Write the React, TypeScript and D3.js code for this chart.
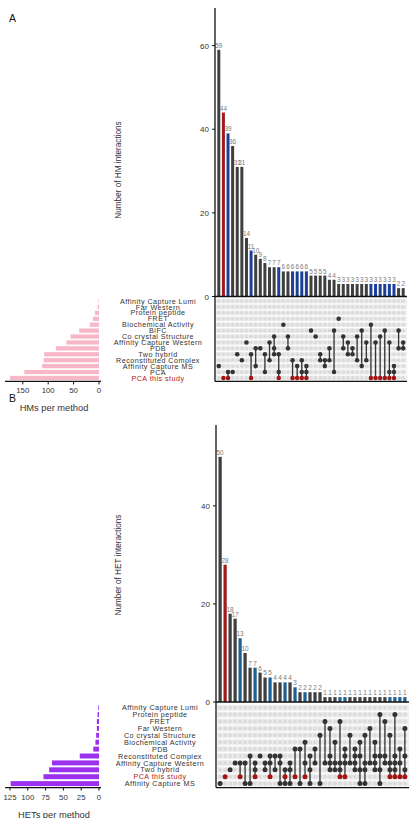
import * as d3 from "d3";

// HM interactions: methods (matrix rows, top to bottom), set sizes, intersections
const hmMethods = [
  "Affinity Capture Lumi",
  "Far Western",
  "Protein peptide",
  "FRET",
  "Biochemical Activity",
  "BiFC",
  "Co crystal Structure",
  "Affinity Capture Western",
  "PDB",
  "Two hybrid",
  "Reconstituted Complex",
  "Affinity Capture MS",
  "PCA",
  "PCA this study",
];
const hmMethodSizes = [1, 3, 8, 12, 18, 39, 56, 64, 85, 108, 109, 112, 147, 175];
const hmCounts = [
  59, 44, 39, 36, 31, 31, 14, 11, 10, 9, 8, 7, 7, 7, 6, 6, 6, 6, 6, 6, 5, 5, 5, 5, 4, 4,
  3, 3, 3, 3, 3, 3, 3, 3, 3, 3, 3, 3, 3, 2, 2,
];
const hmMembers: number[][] = [
  [11], [13], [12, 13], [12], [9], [10], [7], [9, 13], [8, 11], [8],
  [9, 12], [7, 10], [6, 8, 9], [9, 12, 13], [4], [6, 8], [10, 13], [11, 13], [10, 12, 13], [11, 12, 13],
  [5], [6], [9, 10], [10, 11], [8, 10], [5, 12], [3], [6, 8], [7, 9], [8, 9],
  [6, 10], [5, 11], [7, 10], [4, 13], [7, 13], [6, 13], [5, 13], [7, 12, 13], [11, 12, 13], [5, 8],
  [7, 8],
];

// HET interactions
const hetMethods = [
  "Affinity Capture Lumi",
  "Protein peptide",
  "FRET",
  "Far Western",
  "Co crystal Structure",
  "Biochemical Activity",
  "PDB",
  "Reconstituted Complex",
  "Affinity Capture Western",
  "Two hybrid",
  "PCA this study",
  "Affinity Capture MS",
];
const hetMethodSizes = [1, 2, 3, 3, 4, 5, 8, 27, 66, 70, 78, 124];
const hetCounts = [
  50, 28, 18, 17, 13, 10, 7, 7, 6, 5, 5, 4, 4, 4, 4, 3, 2, 2, 2, 2, 2,
  1, 1, 1, 1, 1, 1, 1, 1, 1, 1, 1, 1, 1, 1, 1, 1, 1,
];
const hetMembers: number[][] = [
  [11], [10], [9], [8], [8, 10], [8, 11], [7, 11], [8, 9, 10], [7], [8, 9],
  [7, 8, 10], [7, 9], [7, 8, 11], [9, 10, 11], [8, 9, 11], [6, 10], [6, 11], [5, 8, 10], [7, 9, 11], [6, 8],
  [4, 11], [2, 8], [3, 7, 8, 9], [5, 8, 9], [2, 8, 9, 10], [6, 7, 8, 10], [4, 8], [6, 7, 8, 9], [5, 7, 9, 11], [4, 8, 9, 11],
  [3, 8], [5, 7, 8, 9], [1, 7, 9, 11], [2, 7, 8], [4, 8, 9, 10], [1, 7, 8, 9, 10], [6, 8, 10], [3, 7, 9, 10],
];

const hmYTicks = [0, 20, 40, 60];
const hetYTicks = [0, 20, 40];
const hmSizeTicks = [0, 50, 100, 150];
const hetSizeTicks = [0, 25, 50, 75, 100, 125];

const STUDY = "PCA this study";
const FONT = "'Liberation Sans', Arial, Helvetica, sans-serif";

type PanelProps = {
  letter: string;
  letterY: number;
  methods: string[];
  sizes: number[];
  counts: number[];
  members: number[][];
  yMax: number;
  yTicks: number[];
  baseY: number;
  topY: number;
  colRange: [number, number];
  rowY0: number;
  rowStep: number;
  sizeMax: number;
  sizeTicks: number[];
  sizeColor: string;
  comboBlue: string;
  yLabel: string;
  yLabelY: number;
  sizeLabel: string;
  sizeLabelY: number;
  labelX: number;
  dotR: number;
};

function UpsetPanel(p: PanelProps) {
  const n = p.counts.length;
  const x = d3
    .scaleBand<number>()
    .domain(d3.range(n))
    .range(p.colRange)
    .paddingInner(0.35)
    .paddingOuter(0.5);
  const y = d3.scaleLinear().domain([0, p.yMax]).range([p.baseY, p.topY]);
  const rows = d3.range(p.methods.length);
  const rowY = d3
    .scalePoint<number>()
    .domain(rows)
    .range([p.rowY0, p.rowY0 + p.rowStep * (p.methods.length - 1)]);
  const sx = d3.scaleLinear().domain([0, p.sizeMax]).range([99, 5]);

  const study = p.methods.indexOf(STUDY);
  const barFill = (m: number[]) =>
    m.includes(study) ? (m.length === 1 ? "#9e1b1b" : p.comboBlue) : "#3f3f3f";

  const left = p.colRange[0];
  const right = p.colRange[1];
  const boxBottom = rowY(p.methods.length - 1)! + p.rowStep / 2 + 0.5;
  const cx = (i: number) => x(i)! + x.bandwidth() / 2;
  const barH = p.rowStep * 0.72;

  return (
    <g fontFamily={FONT}>
      <text x={9} y={p.letterY} fontSize={10.5} fill="#111">
        {p.letter}
      </text>

      {/* intersection size bars */}
      {p.counts.map((v, i) => (
        <rect
          key={"b" + i}
          x={x(i)}
          y={y(v)}
          width={x.bandwidth()}
          height={y(0) - y(v)}
          fill={barFill(p.members[i])}
        />
      ))}
      {p.counts.map((v, i) => (
        <text
          key={"t" + i}
          x={cx(i)}
          y={y(v) - 2}
          fontSize={6.4}
          fill="#7a7a7a"
          textAnchor="middle"
        >
          {v}
        </text>
      ))}

      {/* y axis */}
      <line x1={left} x2={left} y1={p.topY} y2={boxBottom} stroke="#111" strokeWidth={1.3} />
      <line x1={left} x2={right} y1={y(0)} y2={y(0)} stroke="#111" strokeWidth={1.3} />
      {p.yTicks.map((t) => (
        <g key={"yt" + t}>
          <line x1={left - 3} x2={left} y1={y(t)} y2={y(t)} stroke="#111" />
          <text x={left - 6} y={y(t) + 3} fontSize={8} fill="#333" textAnchor="end">
            {t}
          </text>
        </g>
      ))}
      <text
        transform={`translate(${121},${p.yLabelY}) rotate(-90)`}
        fontSize={8.2}
        fill="#333"
        textAnchor="middle"
      >
        {p.yLabel}
      </text>

      {/* matrix */}
      {rows.map((r) => (
        <rect
          key={"band" + r}
          x={left + 1}
          y={rowY(r)! - p.rowStep / 2 + 0.5}
          width={right - left - 1}
          height={p.rowStep - 1}
          fill="#ededed"
        />
      ))}
      {rows.map((r) =>
        p.counts.map((_, i) => (
          <circle key={`e${r}-${i}`} cx={cx(i)} cy={rowY(r)} r={p.dotR * 0.8} fill="#dcdcdc" />
        ))
      )}
      {p.members.map((m, i) => {
        const ys = m.map((r) => rowY(r)!);
        return (
          <g key={"m" + i}>
            <line
              x1={cx(i)}
              x2={cx(i)}
              y1={d3.min(ys)}
              y2={d3.max(ys)}
              stroke="#333"
              strokeWidth={1.3}
            />
            {m.map((r) => (
              <circle
                key={r}
                cx={cx(i)}
                cy={rowY(r)}
                r={p.dotR}
                fill={r === study ? "#a31515" : "#333"}
              />
            ))}
          </g>
        );
      })}
      <line x1={left} x2={right} y1={boxBottom} y2={boxBottom} stroke="#111" strokeWidth={1.2} />

      {/* method labels */}
      {p.methods.map((name, r) => (
        <text
          key={"l" + r}
          x={p.labelX}
          y={rowY(r)! + 2.6}
          fontSize={7.2}
          letterSpacing={0.45}
          fill={name === STUDY ? "#b22222" : "#333"}
          textAnchor="middle"
        >
          {name}
        </text>
      ))}

      {/* set size bars */}
      {p.sizes.map((v, r) => (
        <rect
          key={"s" + r}
          x={sx(v)}
          y={rowY(r)! - barH / 2}
          width={sx(0) - sx(v)}
          height={barH}
          fill={p.sizeColor}
        />
      ))}
      <line x1={5} x2={101} y1={boxBottom} y2={boxBottom} stroke="#111" strokeWidth={1.2} />
      {p.sizeTicks.map((t) => (
        <g key={"st" + t}>
          <line x1={sx(t)} x2={sx(t)} y1={boxBottom} y2={boxBottom + 3} stroke="#111" />
          <text x={sx(t)} y={boxBottom + 12} fontSize={7.8} fill="#333" textAnchor="middle">
            {t}
          </text>
        </g>
      ))}
      <text x={54} y={p.sizeLabelY} fontSize={9.3} fill="#333" textAnchor="middle">
        {p.sizeLabel}
      </text>
    </g>
  );
}

export default function App() {
  return (
    <svg
      width={415}
      height={818}
      style={{ position: "absolute", left: 0, top: 0, background: "#fff" }}
    >
      <UpsetPanel
        letter="A"
        letterY={22}
        methods={hmMethods}
        sizes={hmMethodSizes}
        counts={hmCounts}
        members={hmMembers}
        yMax={69}
        yTicks={hmYTicks}
        baseY={296.5}
        topY={8}
        colRange={[215, 407]}
        rowY0={301}
        rowStep={5.92}
        sizeMax={185}
        sizeTicks={hmSizeTicks}
        sizeColor="#f8b7c6"
        comboBlue="#1d3f96"
        yLabel="Number of HM interactions"
        yLabelY={170}
        sizeLabel="HMs per method"
        sizeLabelY={411}
        labelX={158}
        dotR={2.3}
      />
      <UpsetPanel
        letter="B"
        letterY={402}
        methods={hetMethods}
        sizes={hetMethodSizes}
        counts={hetCounts}
        members={hetMembers}
        yMax={56.5}
        yTicks={hetYTicks}
        baseY={702}
        topY={425}
        colRange={[216, 409]}
        rowY0={707.7}
        rowStep={6.9}
        sizeMax={132}
        sizeTicks={hetSizeTicks}
        sizeColor="#9b30ee"
        comboBlue="#1e6091"
        yLabel="Number of HET interactions"
        yLabelY={565}
        sizeLabel="HETs per method"
        sizeLabelY={818}
        labelX={160}
        dotR={2.5}
      />
    </svg>
  );
}
